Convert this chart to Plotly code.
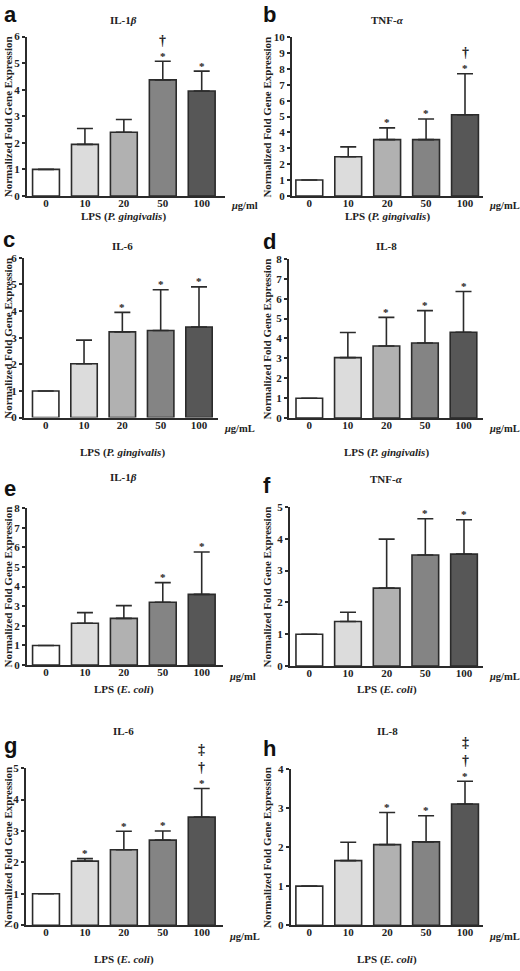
import plotly.graph_objects as go

W, H = 520, 971

# ---------------- data ----------------
doses = ["0", "10", "20", "50", "100"]
bar_colors = ["#ffffff", "#dcdcdc", "#b1b1b1", "#848484", "#575757"]

a_mean = [1.0, 1.94, 2.40, 4.37, 3.95]
a_upper = [None, 2.54, 2.88, 5.07, 4.70]
a_sig = ["", "", "", "*†", "*"]

b_mean = [1.0, 2.47, 3.55, 3.55, 5.12]
b_upper = [None, 3.09, 4.29, 4.85, 7.70]
b_sig = ["", "", "*", "*", "*†"]

c_mean = [1.0, 2.02, 3.22, 3.27, 3.40]
c_upper = [None, 2.91, 3.95, 4.80, 4.91]
c_sig = ["", "", "*", "*", "*"]

d_mean = [1.0, 3.04, 3.62, 3.77, 4.31]
d_upper = [None, 4.30, 5.06, 5.40, 6.36]
d_sig = ["", "", "*", "*", "*"]

e_mean = [1.0, 2.13, 2.38, 3.20, 3.60]
e_upper = [None, 2.67, 3.03, 4.20, 5.76]
e_sig = ["", "", "", "*", "*"]

f_mean = [1.0, 1.40, 2.45, 3.49, 3.52]
f_upper = [None, 1.69, 3.99, 4.63, 4.60]
f_sig = ["", "", "", "*", "*"]

g_mean = [1.0, 2.04, 2.40, 2.71, 3.44]
g_upper = [None, 2.12, 2.99, 3.00, 4.35]
g_sig = ["", "*", "*", "*", "*†‡"]

h_mean = [1.0, 1.65, 2.06, 2.13, 3.10]
h_upper = [None, 2.12, 2.88, 2.80, 3.68]
h_sig = ["", "", "*", "*", "*†‡"]

letters = ["a", "b", "c", "d", "e", "f", "g", "h"]
titles = ["IL-1<i>β</i>", "TNF-<i>α</i>", "IL-6", "IL-8",
          "IL-1<i>β</i>", "TNF-<i>α</i>", "IL-6", "IL-8"]
sources = ["P. gingivalis"] * 4 + ["E. coli"] * 4
units = ["ml", "mL", "mL", "mL", "ml", "mL", "mL", "mL"]
y_max = [6, 10, 6, 8, 8, 5, 5, 4]

means = [a_mean, b_mean, c_mean, d_mean, e_mean, f_mean, g_mean, h_mean]
uppers = [a_upper, b_upper, c_upper, d_upper, e_upper, f_upper, g_upper, h_upper]
sigs = [a_sig, b_sig, c_sig, d_sig, e_sig, f_sig, g_sig, h_sig]

# ---------------- layout geometry (pixels) ----------------
geom = [
    dict(x0=27, x1=225, c0=46, c4=201.7, ytop=31, ybot=192.3),
    dict(x0=292, x1=482.7, c0=309.3, c4=465, ytop=31.7, ybot=192.3),
    dict(x0=24, x1=218, c0=45.7, c4=199, ytop=255, ybot=416.7),
    dict(x0=289, x1=482.7, c0=309.3, c4=463.5, ytop=256, ybot=417.3),
    dict(x0=27, x1=222.7, c0=46, c4=201.7, ytop=508.3, ybot=667.3),
    dict(x0=290, x1=482.7, c0=309.3, c4=464, ytop=507.3, ybot=668.3),
    dict(x0=26, x1=222.7, c0=46, c4=201.7, ytop=771.7, ybot=930.7),
    dict(x0=290.7, x1=482.7, c0=309.3, c4=465, ytop=772.3, ybot=930.7),
]
title_y = [14, 14, 243, 243, 477, 479, 734, 734]
tick_y = [202, 202, 428, 428, 679, 679, 942, 942]
lps_y = [213, 213, 452, 452, 692, 692, 965, 965]
letter_base = [17, 17, 245, 247, 497, 494, 757, 760]
letter_x = [3, 262, 2, 262, 3, 262, 3, 262]


def px(xp):
    return xp / W


def py(yp):
    return 1 - yp / H


SERIF = "Liberation Serif"
SANS = "Liberation Sans"
INK = "#222222"
LINE = "#2b2b2b"

fig = go.Figure()
annotations = []

for k in range(8):
    g = geom[k]
    s = (g["c4"] - g["c0"]) / 4.0
    lo = -(g["c0"] - g["x0"]) / s
    hi = 4 + (g["x1"] - g["c4"]) / s
    xa = "x" if k == 0 else f"x{k+1}"
    ya = "y" if k == 0 else f"y{k+1}"
    xkey = "xaxis" if k == 0 else f"xaxis{k+1}"
    ykey = "yaxis" if k == 0 else f"yaxis{k+1}"

    m = means[k]
    up = uppers[k]
    plus = [(u - v) if u is not None else 0 for u, v in zip(up, m)]

    fig.add_trace(go.Bar(
        x=list(range(5)), y=m, width=0.69,
        marker=dict(color=bar_colors, line=dict(color=LINE, width=1.6)),
        error_y=dict(type="data", symmetric=False, array=plus,
                     arrayminus=[0] * 5, color=LINE, thickness=1.6, width=8),
        xaxis=xa, yaxis=ya, showlegend=False, hoverinfo="skip",
    ))

    fig.layout[xkey] = dict(
        domain=[px(g["x0"]), px(g["x1"])], range=[lo, hi], anchor=ya,
        tickmode="array", tickvals=list(range(5)), ticktext=doses,
        showline=True, linecolor=LINE, linewidth=2, ticks="",
        ticklabelstandoff=-4,
        showgrid=False, zeroline=False, fixedrange=True,
        tickfont=dict(family=SERIF, size=11, color=INK, weight="bold"),
    )
    fig.layout[ykey] = dict(
        domain=[py(g["ybot"]), py(g["ytop"])], range=[0, y_max[k]], anchor=xa,
        dtick=1, tick0=0, showline=True, linecolor=LINE, linewidth=2,
        ticks="outside", ticklen=3, tickwidth=1.5, tickcolor=LINE,
        showgrid=False, zeroline=False, fixedrange=True,
        tickfont=dict(family=SERIF, size=11, color=INK, weight="bold"),
    )

    left = k % 2 == 0
    cx = (g["c0"] + g["c4"]) / 2
    annotations.append(dict(
        text=f"<b>{titles[k]}</b>", x=px(cx), y=py(title_y[k]), xref="paper", yref="paper",
        showarrow=False, xanchor="center", yanchor="middle",
        font=dict(family=SERIF, size=11, color=INK)))
    annotations.append(dict(
        text=f"<b>{letters[k]}</b>", x=px(letter_x[k]), y=py(letter_base[k] + 5),
        xref="paper", yref="paper", showarrow=False, xanchor="left", yanchor="bottom",
        borderpad=0,
        font=dict(family=SANS, size=22, color="#111111")))
    annotations.append(dict(
        text="<b>Normalized Fold Gene Expression</b>", textangle=-90,
        x=px(8 if left else 267), y=py((g["ytop"] + g["ybot"]) / 2 + 1),
        xref="paper", yref="paper", showarrow=False, xanchor="center", yanchor="middle",
        font=dict(family=SERIF, size=11, color=INK)))
    annotations.append(dict(
        text=f"<b><i>μ</i>g/{units[k]}</b>", x=px(g["x1"] + 4), y=py(tick_y[k]),
        xref="paper", yref="paper", showarrow=False, xanchor="left", yanchor="middle",
        font=dict(family=SERIF, size=10.5, color=INK)))
    annotations.append(dict(
        text=f"<b>LPS (<i>{sources[k]}</i>)</b>", x=px(cx), y=py(lps_y[k]),
        xref="paper", yref="paper", showarrow=False, xanchor="center", yanchor="middle",
        font=dict(family=SERIF, size=11, color=INK)))
    shifts = [5.5, 21, 39]
    for i in range(5):
        for lvl, ch in enumerate(sigs[k][i]):
            top = up[i] if up[i] is not None else m[i]
            annotations.append(dict(
                text=f"<b>{ch}</b>", x=i, y=top, xref=xa, yref=ya,
                showarrow=False, xanchor="center", yanchor="middle", yshift=shifts[lvl],
                font=dict(family=SERIF, size=11 if ch == "*" else 14, color=INK)))

fig.update_layout(
    width=W, height=H, autosize=False,
    margin=dict(l=0, r=0, t=0, b=0, pad=0),
    paper_bgcolor="white", plot_bgcolor="white",
    annotations=annotations,
)

fig.write_html(
    "out.html",
    config={"displayModeBar": False},
    post_script="document.body.style.margin='0';document.body.style.padding='0';"
                "document.documentElement.style.overflow='hidden';",
)
